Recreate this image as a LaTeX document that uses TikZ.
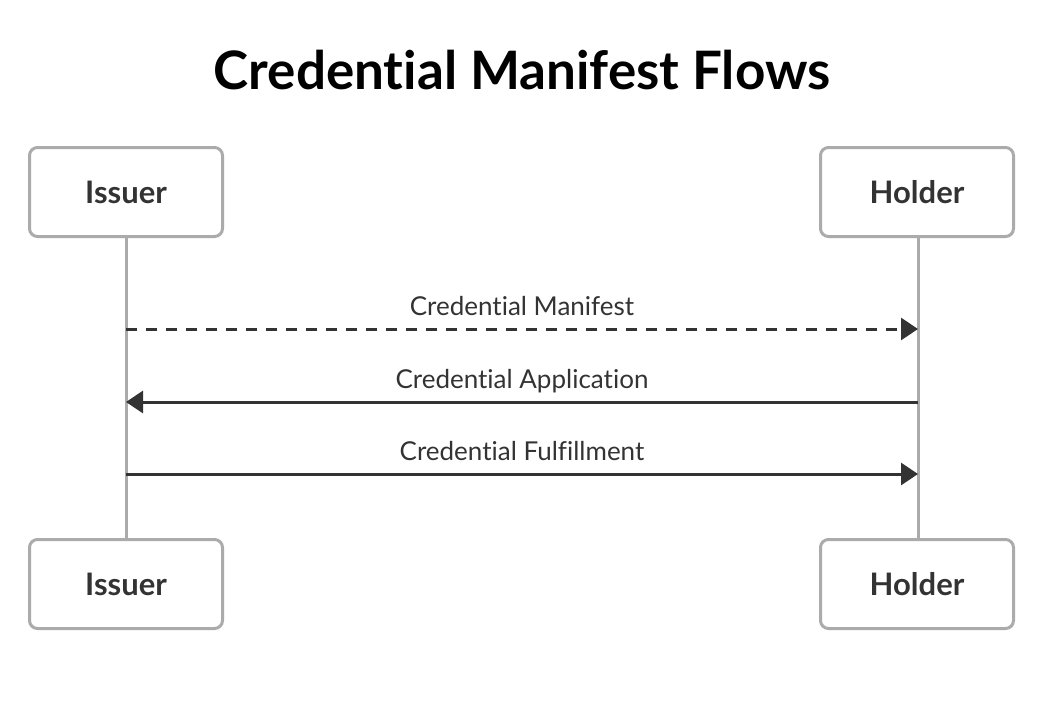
\documentclass[tikz,border=0pt]{standalone}
\usepackage{fontspec}
\setmainfont[Ligatures=NoCommon]{Lato}
\usetikzlibrary{arrows.meta}

\definecolor{boxgray}{HTML}{ABABAB}
\definecolor{ink}{HTML}{333333}

\begin{document}
\begin{tikzpicture}[
		x=1pt, y=-1pt,
		>={Triangle[length=17pt, width=22pt]},
		actor/.style={draw=boxgray, line width=3pt, rounded corners=8pt, fill=white,
			minimum width=193pt, minimum height=89pt, text=ink,
			font=\fontsize{31}{36}\selectfont\bfseries},
		life/.style={draw=boxgray, line width=3pt},
		msg/.style={draw=ink, line width=3pt},
		lbl/.style={text=ink, font=\fontsize{26}{30}\selectfont, anchor=base}
		]
		
		\useasboundingbox (0,0) rectangle (1052,702);
		
		% title
		\node (title) at (522,70) {\fontsize{53}{60}\selectfont\bfseries Credential Manifest Flows};
		
		% lifelines
		\draw[life] (126,238) -- (126,538);
		\draw[life] (918,238) -- (918,538);
		
		% participants, top and bottom
		\node[actor] (issuerTop) at (126,192) {Issuer};
		\node[actor] (holderTop) at (917,192) {Holder};
		\node[actor] (issuerBot) at (126,584) {Issuer};
		\node[actor] (holderBot) at (917,584) {Holder};
		
		% message ends on the lifelines
		\coordinate (i1) at (126,329); \coordinate (h1) at (918,329);
		\coordinate (i2) at (126,402); \coordinate (h2) at (918,402);
		\coordinate (i3) at (126,474); \coordinate (h3) at (918,474);
		
		% messages
		\draw[msg, ->, dash pattern=on 11pt off 9pt] (i1) -- (h1);
		\node[lbl] (lblManifest) at (522,315) {Credential Manifest};
		
		\draw[msg, ->] (h2) -- (i2);
		\node[lbl] (lblApplication) at (522,388) {Credential Application};
		
		\draw[msg, ->] (i3) -- (h3);
		\node[lbl] (lblFulfillment) at (522,460) {Credential Fulfillment};
		
	\end{tikzpicture}
\end{document}
